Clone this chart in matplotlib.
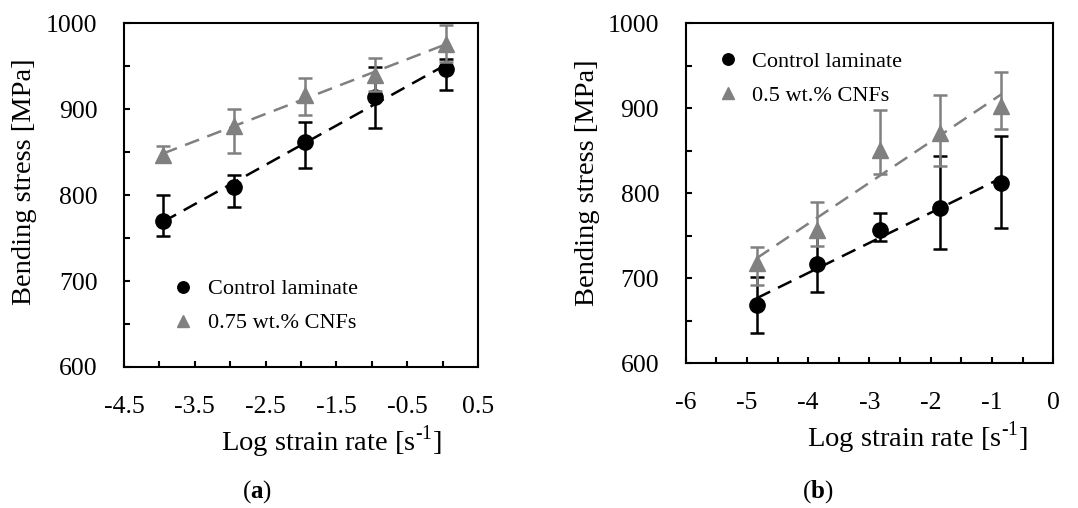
import numpy as np
import matplotlib
matplotlib.use("Agg")
import matplotlib.pyplot as plt
from matplotlib.ticker import MultipleLocator

plt.rcParams["font.family"] = ["Liberation Serif", "DejaVu Serif"]
plt.rcParams["mathtext.fontset"] = "custom"
plt.rcParams["mathtext.rm"] = "Liberation Serif"
plt.rcParams["mathtext.bf"] = "Liberation Serif:bold"

# panel (a)
a_x = [-3.95, -2.95, -1.95, -0.95, 0.05]
a_ctrl = [770, 809, 862, 914, 946]
a_ctrl_lo = [752, 786, 831, 878, 922]
a_ctrl_hi = [800, 823, 885, 949, 958]
a_cnf = [847, 880, 916, 940, 976]
a_cnf_lo = [838, 849, 893, 921, 955]
a_cnf_hi = [857, 900, 936, 959, 998]

# panel (b)
b_x = [-4.84, -3.85, -2.83, -1.85, -0.845]
b_ctrl = [668, 716, 757, 782, 812]
b_ctrl_lo = [635, 683, 744, 734, 759]
b_ctrl_hi = [701, 748, 776, 844, 867]
b_cnf = [718, 757, 851, 871, 902]
b_cnf_lo = [692, 738, 823, 832, 876]
b_cnf_hi = [736, 789, 898, 916, 942]

GRAY = "#808080"
XLABEL = r"Log strain rate [s$^{\text{-1}}$]"


def draw(ax, x, y1, lo1, hi1, y2, lo2, hi2, lab2):
    x = np.array(x)
    for y, lo, hi, col, mk, ms, lab, z in [
        (y1, lo1, hi1, "black", "o", 11, "Control laminate", 3),
        (y2, lo2, hi2, GRAY, "^", 11.5, lab2, 4),
    ]:
        y, lo, hi = np.array(y), np.array(lo), np.array(hi)
        ax.errorbar(x, y, yerr=[y - lo, hi - y], fmt="none", ecolor=col,
                    elinewidth=1.8, capsize=4.8, capthick=1.8, zorder=z)
        ax.plot(x, y, mk, color=col, ms=ms, zorder=z, label=lab)
        k, b = np.polyfit(x, y, 1)
        xx = np.array([x[0], x[-1]])
        ax.plot(xx, k * xx + b, "--", color=col, lw=1.8, dashes=(6, 3.5), zorder=z + 0.5)
    ax.set_ylim(600, 1000)
    ax.yaxis.set_major_locator(MultipleLocator(100))
    ax.yaxis.set_minor_locator(MultipleLocator(50))
    ax.tick_params(which="both", direction="in", length=4.5, width=1.5, labelsize=18.5)
    ax.tick_params(axis="y", pad=19)
    ax.tick_params(axis="x", pad=21)
    for s in ax.spines.values():
        s.set_linewidth(1.5)
    ax.set_ylabel("Bending stress [MPa]", fontsize=20.5)
    ax.set_xlabel(XLABEL, fontsize=20.5)


fig = plt.figure(figsize=(10.78, 5.08), dpi=100)
ax1 = fig.add_axes([0.115, 0.2776, 0.3284, 0.677])
ax2 = fig.add_axes([0.636, 0.2854, 0.341, 0.669])

draw(ax1, a_x, a_ctrl, a_ctrl_lo, a_ctrl_hi, a_cnf, a_cnf_lo, a_cnf_hi, "0.75 wt.% CNFs")
ax1.set_xlim(-4.5, 0.5)
ax1.set_xticks(np.arange(-4.5, 0.51, 1.0))
ax1.xaxis.set_minor_locator(MultipleLocator(0.5))
ax1.set_xticklabels(["-4.5", "-3.5", "-2.5", "-1.5", "-0.5", "0.5"])
ax1.xaxis.set_label_coords(0.585, -0.163)
ax1.yaxis.set_label_coords(-0.246, 0.54)
ax1.legend(loc="center left", bbox_to_anchor=(0.136, 0.177), frameon=False,
           fontsize=16, handlelength=1, handletextpad=0.6, borderpad=0,
           borderaxespad=0, labelspacing=0.6, markerscale=0.75)

draw(ax2, b_x, b_ctrl, b_ctrl_lo, b_ctrl_hi, b_cnf, b_cnf_lo, b_cnf_hi, "0.5 wt.% CNFs")
ax2.set_xlim(-6, 0)
ax2.set_xticks(np.arange(-6, 0.1, 1))
ax2.xaxis.set_minor_locator(MultipleLocator(0.5))
ax2.set_xticklabels(["-6", "-5", "-4", "-3", "-2", "-1", "0"])
ax2.xaxis.set_label_coords(0.63, -0.165)
ax2.yaxis.set_label_coords(-0.234, 0.531)
ax2.legend(loc="center left", bbox_to_anchor=(0.0845, 0.837), frameon=False,
           fontsize=16, handlelength=1, handletextpad=0.6, borderpad=0,
           borderaxespad=0, labelspacing=0.6, markerscale=0.75)

fig.text(0.238, 0.0315, r"($\mathbf{a}$)", fontsize=18, ha="center", va="center")
fig.text(0.759, 0.0315, r"($\mathbf{b}$)", fontsize=18, ha="center", va="center")

fig.savefig("out.png", dpi=100)
print("Saved: out.png")
